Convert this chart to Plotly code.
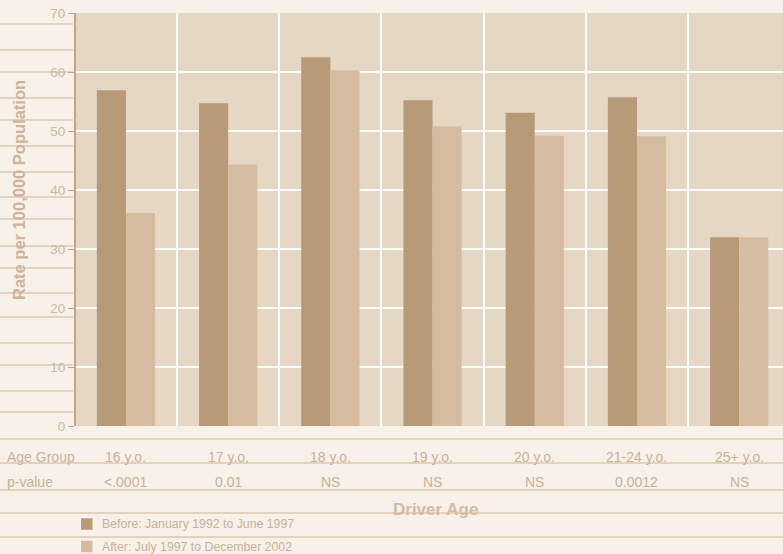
import plotly.graph_objects as go

age_groups = ["16 y.o.", "17 y.o.", "18 y.o.", "19 y.o.", "20 y.o.", "21-24 y.o.", "25+ y.o."]
p_values = ["<.0001", "0.01", "NS", "NS", "NS", "0.0012", "NS"]
before = [56.9, 54.7, 62.5, 55.2, 53.1, 55.7, 32.0]
after = [36.1, 44.3, 60.3, 50.8, 49.2, 49.1, 32.0]
series_names = ["Before: January 1992 to June 1997", "After: July 1997 to December 2002"]
series_colors = ["#B89A77", "#D5BCA1"]
y_ticks = [0, 10, 20, 30, 40, 50, 60, 70]

W, H = 783, 554
L, R, T, B = 76, 0, 13, 128
PW, PH = W - L - R, H - T - B

def py(pix):  # pixel y -> paper y
    return (H - B - pix) / PH

def px(pix):  # pixel x -> paper x
    return (pix - L) / PW

TXT = "#C9B196"
LINE = "#DCC7AE"
xs = list(range(len(age_groups)))

fig = go.Figure()
for vals, name, col in zip([before, after], series_names, series_colors):
    fig.add_trace(go.Bar(x=xs, y=vals, name=name,
                         marker=dict(color=col, line=dict(width=0))))

shapes = []
for yy in [24, 50, 72, 98, 120, 146, 172, 197, 219, 246, 268, 293, 317, 343, 365, 391, 412]:
    shapes.append(dict(type="line", xref="paper", yref="paper", x0=px(0), x1=px(73),
                       y0=py(yy), y1=py(yy), line=dict(color=LINE, width=1.5), layer="below"))
for yy in [439, 463, 490, 513, 537]:
    shapes.append(dict(type="line", xref="paper", yref="paper", x0=px(0), x1=px(W),
                       y0=py(yy), y1=py(yy), line=dict(color=LINE, width=1.5)))

ann = []
ann.append(dict(text="Age Group", xref="paper", yref="paper", x=px(5), y=py(457),
                xanchor="left", yanchor="middle", showarrow=False,
                font=dict(size=14, color=TXT)))
ann.append(dict(text="p-value", xref="paper", yref="paper", x=px(5), y=py(482),
                xanchor="left", yanchor="middle", showarrow=False,
                font=dict(size=14, color=TXT)))
for i, (g, p) in enumerate(zip(age_groups, p_values)):
    ann.append(dict(text=g, x=i, xref="x", yref="paper", y=py(457), showarrow=False,
                    xanchor="center", yanchor="middle", font=dict(size=14, color=TXT)))
    ann.append(dict(text=p, x=i, xref="x", yref="paper", y=py(482), showarrow=False,
                    xanchor="center", yanchor="middle", font=dict(size=14, color=TXT)))
ann.append(dict(text="<b>Driver Age</b>", xref="paper", yref="paper", x=px(435), y=py(510),
                showarrow=False, xanchor="center", yanchor="middle",
                font=dict(size=17, color="#D3BBA1")))
ann.append(dict(text="<b>Rate per 100,000 Population</b>", xref="paper", yref="paper",
                x=px(19), y=py(190), textangle=-90, showarrow=False,
                xanchor="center", yanchor="middle", font=dict(size=16.5, color="#CFB498")))

# manual legend (kept inside the figure so it does not push margins)
for k, (name, col) in enumerate(zip(series_names, series_colors)):
    cy = 524 + 22.5 * k
    shapes.append(dict(type="rect", xref="paper", yref="paper",
                       x0=px(81), x1=px(92.5), y0=py(cy - 5.75), y1=py(cy + 5.75),
                       fillcolor=col, line=dict(width=0)))
    ann.append(dict(text=name, xref="paper", yref="paper", x=px(100), y=py(cy),
                    xanchor="left", yanchor="middle", showarrow=False,
                    font=dict(size=12.3, color=TXT)))

fig.update_layout(
    width=W, height=H, autosize=False,
    margin=dict(l=L, r=R, t=T, b=B),
    paper_bgcolor="#F7F1EA",
    plot_bgcolor="#E6D6C4",
    font=dict(family="Liberation Sans, Arial, sans-serif", color=TXT),
    barmode="group", bargap=0.43, bargroupgap=0,
    showlegend=False,
    shapes=shapes, annotations=ann,
    xaxis=dict(range=[-0.489, -0.489 + PW / 102.2], tickvals=[0.5, 1.5, 2.5, 3.5, 4.5, 5.5],
               showticklabels=False, ticks="", showgrid=True, gridcolor="#FFFFFF",
               gridwidth=2, zeroline=False, showline=False, fixedrange=True),
    yaxis=dict(range=[0, 70], tickvals=y_ticks, ticktext=[str(v) for v in y_ticks],
               showgrid=True, gridcolor="#FFFFFF", gridwidth=2, zeroline=False,
               showline=True, linecolor="#C4A683", linewidth=2,
               ticks="outside", ticklen=6, tickcolor="#C4A683", tickwidth=1,
               tickfont=dict(size=13.5, color="#CDB8A0"), fixedrange=True),
)

post = ("document.body.style.margin='0';document.body.style.padding='0';"
        "document.body.style.overflow='hidden';"
        "document.body.style.background='#F7F1EA';")

fig.write_html("out.html", post_script=post, config={"displayModeBar": False})
